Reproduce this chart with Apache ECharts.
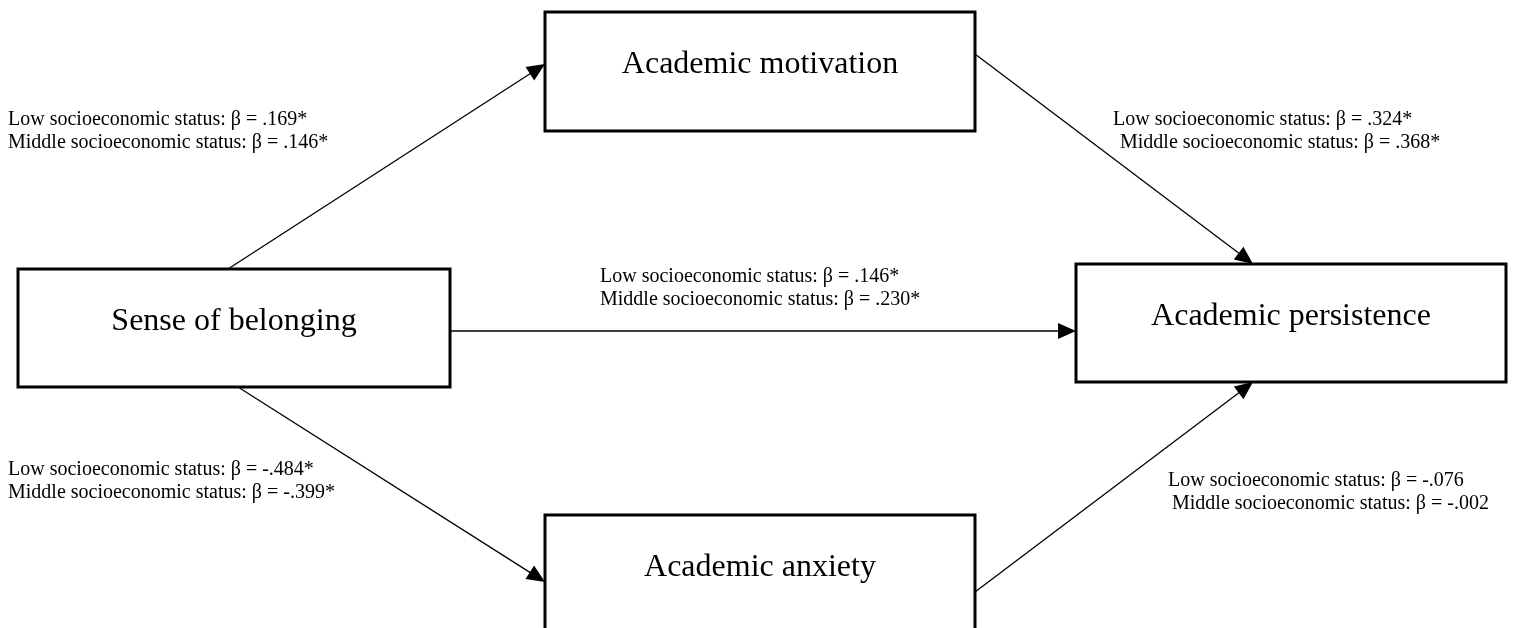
<!DOCTYPE html>
<html>
<head>
<meta charset="utf-8">
<script src="https://cdn.jsdelivr.net/npm/echarts@6/dist/echarts.min.js"></script>
<style>
  html, body { margin: 0; padding: 0; background: #fff; }
  #chart { width: 1523px; height: 628px; }
</style>
</head>
<body>
<div id="chart"></div>
<script>
// ---------- data ----------
const constructs = ['Sense of belonging', 'Academic motivation', 'Academic anxiety', 'Academic persistence'];
const pathFrom = ['Sense of belonging', 'Academic motivation', 'Sense of belonging', 'Sense of belonging', 'Academic anxiety'];
const pathTo   = ['Academic motivation', 'Academic persistence', 'Academic persistence', 'Academic anxiety', 'Academic persistence'];
const groups = ['Low socioeconomic status', 'Middle socioeconomic status'];
const lowBeta = [0.169, 0.324, 0.146, -0.484, -0.076];
const lowSig = [true, true, true, true, false];
const middleBeta = [0.146, 0.368, 0.230, -0.399, -0.002];
const middleSig = [true, true, true, true, false];

// ---------- layout (diagram coordinates, 1523 x 628 space) ----------
const boxLayout = {
  'Sense of belonging':   [18, 269, 450, 387],
  'Academic motivation':  [545, 12, 975, 131],
  'Academic anxiety':     [545, 515, 975, 660],
  'Academic persistence': [1076, 264, 1506, 382]
};
const textDrop = 53;
const arrowLayout = [
  [228, 269, 545, 64],
  [975, 54, 1253, 264],
  [450, 331, 1076, 331],
  [238, 387, 545, 582],
  [975, 592, 1253, 382]
];
// [x line1, y line1, x line2, y line2]
const labelLayout = [
  [8, 120, 8, 143],
  [1113, 120, 1120, 143],
  [600, 277, 600, 300],
  [8, 470, 8, 493],
  [1168, 481, 1172, 504]
];

const serif = '"Liberation Serif", "Times New Roman", "DejaVu Serif", serif';

function fmt(v) {
  const s = Math.abs(v).toFixed(3).replace(/^0/, '');
  return (v < 0 ? '-' : '') + s;
}

const boxData = constructs.map(n => boxLayout[n]);
const labelLines = [];
pathFrom.forEach((f, i) => {
  const L = labelLayout[i];
  labelLines.push({ value: [L[0], L[1]], text: groups[0] + ': \u03B2 = ' + fmt(lowBeta[i]) + (lowSig[i] ? '*' : '') });
  labelLines.push({ value: [L[2], L[3]], text: groups[1] + ': \u03B2 = ' + fmt(middleBeta[i]) + (middleSig[i] ? '*' : '') });
});

const chart = echarts.init(document.getElementById('chart'), null, { renderer: 'canvas' });
chart.setOption({
  backgroundColor: '#ffffff',
  animation: false,
  grid: { left: 0, right: 0, top: 0, bottom: 0 },
  xAxis: { type: 'value', min: 0, max: 1523, show: false },
  yAxis: { type: 'value', min: 0, max: 628, inverse: true, show: false },
  series: [
    {
      type: 'custom',
      name: 'paths',
      clip: false,
      data: arrowLayout,
      renderItem: function (params, api) {
        const p0 = api.coord([api.value(0), api.value(1)]);
        const p1 = api.coord([api.value(2), api.value(3)]);
        const dx = p1[0] - p0[0], dy = p1[1] - p0[1];
        const len = Math.sqrt(dx * dx + dy * dy);
        const ux = dx / len, uy = dy / len;
        const headL = 18, headW = 8;
        const bx = p1[0] - ux * headL, by = p1[1] - uy * headL;
        return {
          type: 'group',
          children: [
            { type: 'line', shape: { x1: p0[0], y1: p0[1], x2: bx + ux * 2, y2: by + uy * 2 },
              style: { stroke: '#000', lineWidth: 1.3 } },
            { type: 'polygon', shape: { points: [
                [p1[0], p1[1]],
                [bx - uy * headW, by + ux * headW],
                [bx + uy * headW, by - ux * headW]
              ] }, style: { fill: '#000' } }
          ]
        };
      }
    },
    {
      type: 'custom',
      name: 'constructs',
      clip: false,
      data: boxData,
      renderItem: function (params, api) {
        const p0 = api.coord([api.value(0), api.value(1)]);
        const p1 = api.coord([api.value(2), api.value(3)]);
        const pt = api.coord([api.value(0), api.value(1) + textDrop]);
        return {
          type: 'group',
          children: [
            { type: 'rect', shape: { x: p0[0], y: p0[1], width: p1[0] - p0[0], height: p1[1] - p0[1] },
              style: { fill: '#fff', stroke: '#000', lineWidth: 3 } },
            { type: 'text', style: { text: constructs[params.dataIndex], x: (p0[0] + p1[0]) / 2, y: pt[1],
              align: 'center', verticalAlign: 'middle', fill: '#000',
              font: '32px ' + serif } }
          ]
        };
      }
    },
    {
      type: 'custom',
      name: 'coefficients',
      clip: false,
      data: labelLines.map(d => d.value),
      renderItem: function (params, api) {
        const p = api.coord([api.value(0), api.value(1)]);
        return {
          type: 'text',
          style: { text: labelLines[params.dataIndex].text, x: p[0], y: p[1],
            align: 'left', verticalAlign: 'middle', fill: '#000',
            font: '20px ' + serif }
        };
      }
    }
  ]
});
</script>
</body>
</html>
